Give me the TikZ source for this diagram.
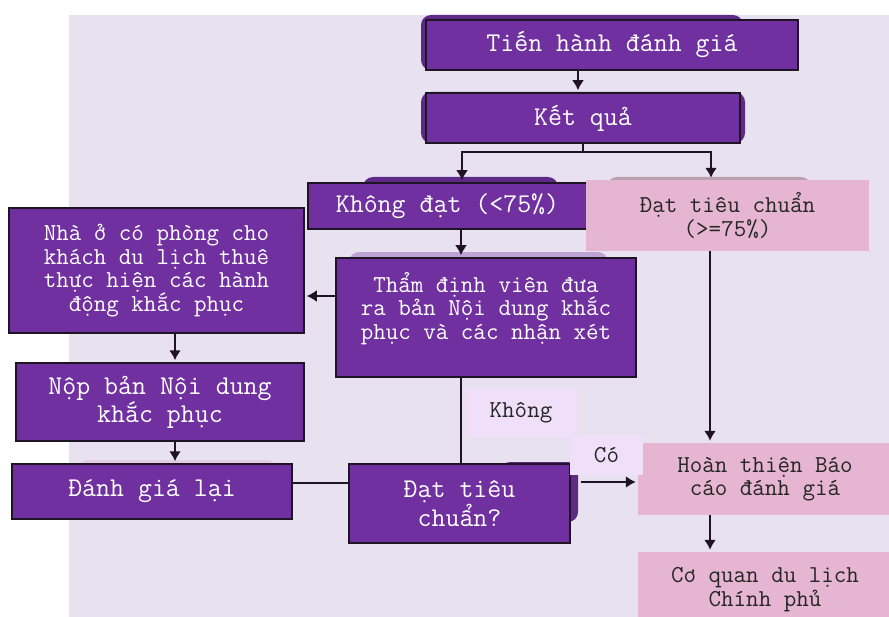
\documentclass[tikz,border=0pt]{standalone}
\usepackage{fontspec}
\usepackage{tikz}
\usetikzlibrary{arrows.meta}
\definecolor{bgcol}{HTML}{E8E1F0}
\definecolor{boxcol}{HTML}{7030A0}
\definecolor{pinkcol}{HTML}{E5B5D1}
\definecolor{tagcol}{HTML}{F0DFF8}
\definecolor{edgecol}{HTML}{1E1424}
\newcommand\bigtxt{\ttfamily\fontsize{27.1bp}{25bp}\selectfont}
\newcommand\smalltxt{\ttfamily\fontsize{24.3bp}{23.5bp}\selectfont}
\tikzstyle{arrow} = [line width=2bp,draw=edgecol,->,>={Latex[length=10bp,width=12bp]},shorten >=2bp]
\tikzstyle{link} = [line width=2bp,draw=edgecol]

\begin{document}
\begin{tikzpicture} [x=1bp,y=-1bp,
    pbox/.style={rectangle,draw=edgecol,line width=1.5bp,fill=boxcol,text=white,align=center,inner sep=0pt},
    kbox/.style={rectangle,fill=pinkcol,text=black!85,align=center,inner sep=0pt},
    tag/.style={rectangle,fill=tagcol,text=black!85,inner sep=0pt},
    ghost/.style={rounded corners=10bp},
    ]
    \useasboundingbox (0,0) rectangle (889,617);
    \clip (0,0) rectangle (889,617);
    \fill[bgcol] (69,15) rectangle (889,617);

    % shapes left behind the boxes
    \fill[ghost,boxcol!85!black] (421,15) rectangle (743,70);
    \fill[ghost,boxcol!85!black] (421,92) rectangle (745,143);
    \fill[ghost,boxcol!85!black] (363,177) rectangle (558,215);
    \fill[ghost,boxcol!85!black] (500,462) rectangle (578,522);
    \fill[ghost,pinkcol!60!gray] (607,177) rectangle (811,200);
    \fill[ghost,boxcol!35!bgcol] (349,252) rectangle (608,280);
    \fill[ghost,pinkcol!45!bgcol] (77,460) rectangle (277,480);

    \node [pbox,font=\bigtxt,minimum width=372bp,minimum height=50bp] (top) at (612,45) {Tiến hành đánh giá};
    \path (top) ++(-29,73) node [pbox,font=\bigtxt,minimum width=314bp,minimum height=50bp] (res) {Kết quả};
    \path (res) ++(-135.5,88) node [pbox,font=\bigtxt,minimum width=279bp,minimum height=46bp] (fail) {Không đạt (<75\%)};
    \path (res) ++(144.5,97.5) node [kbox,font=\smalltxt,minimum width=283bp,minimum height=71bp] (pass) {Đạt tiêu chuẩn\\(>=75\%)};
    \path (fail) ++(38.5,111.5) node [pbox,font=\smalltxt,minimum width=300bp,minimum height=119bp] (tm) {Thẩm định viên đưa\\ra bản Nội dung khắc\\phục và các nhận xét\\~};
    \path (tm) ++(-329.5,-47) node [pbox,font=\smalltxt,minimum width=295bp,minimum height=125bp] (fix) {Nhà ở có phòng cho\\khách du lịch thuê\\thực hiện các hành\\động khắc phục};
    \path (fix) ++(3.5,131.5) node [pbox,font=\bigtxt,minimum width=288bp,minimum height=78bp] (sub) {Nộp bản Nội dung\\khắc phục};
    \path (sub) ++(-8,89.5) node [pbox,font=\bigtxt,minimum width=280bp,minimum height=55bp] (again) {Đánh giá lại};
    \path (tm) ++(-26.5,186) node [pbox,font=\bigtxt,minimum width=221bp,minimum height=79bp] (dec) {Đạt tiêu\\chuẩn?};
    \path (pass) ++(37.5,263.5) node [kbox,font=\smalltxt,minimum width=254bp,minimum height=72bp] (done) {Hoàn thiện Báo\\cáo đánh giá};
    \path (done) ++(0,110.5) node [kbox,font=\smalltxt,minimum width=254bp,minimum height=75bp] (gov) {Cơ quan du lịch\\Chính phủ};
    \path (tm) ++(35,95) node [tag,font=\smalltxt,minimum width=112bp,minimum height=49bp] (no) {Không};
    \path (dec) ++(147,-48.5) node [tag,font=\smalltxt,minimum width=73bp,minimum height=40bp] (yes) {Có};

    \coordinate (split) at ([yshift=-8bp]res.south);
    \coordinate (yesout) at ([xshift=10bp,yshift=21.5bp]dec.east);

    \draw[arrow] ([xshift=-34bp]top.south) -- ([xshift=-34bp]top.south |- res.north);
    \draw[link] (res.south) -- (split);
    \draw[arrow] (split) -| ([xshift=14.5bp]fail.north);
    \draw[arrow] (split) -| ([xshift=-16.5bp]pass.north);
    \draw[arrow] ([xshift=13.5bp]fail.south) -- ([xshift=13.5bp]fail.south |- tm.north);
    \draw[arrow] ([yshift=21.5bp]tm.west) -- ([yshift=21.5bp]tm.west -| fix.east);
    \draw[arrow] ([xshift=18.5bp]fix.south) -- ([xshift=18.5bp]fix.south |- sub.north);
    \draw[arrow] ([xshift=15bp]sub.south) -- ([xshift=15bp]sub.south |- again.north);
    \draw[link] ([yshift=8.5bp]again.east) -- ([yshift=8.5bp]again.east -| dec.west);
    \draw[link] ([xshift=-25.5bp]tm.south) -- ([xshift=-25.5bp]tm.south |- dec.north);
    \draw[arrow] (yesout) -- (yesout -| done.west);
    \draw[arrow] ([xshift=-17.5bp]pass.south) -- ([xshift=-17.5bp]pass.south |- done.north);
    \draw[arrow] ([xshift=-55bp]done.south) -- ([xshift=-55bp]done.south |- gov.north);
\end{tikzpicture}
\end{document}
